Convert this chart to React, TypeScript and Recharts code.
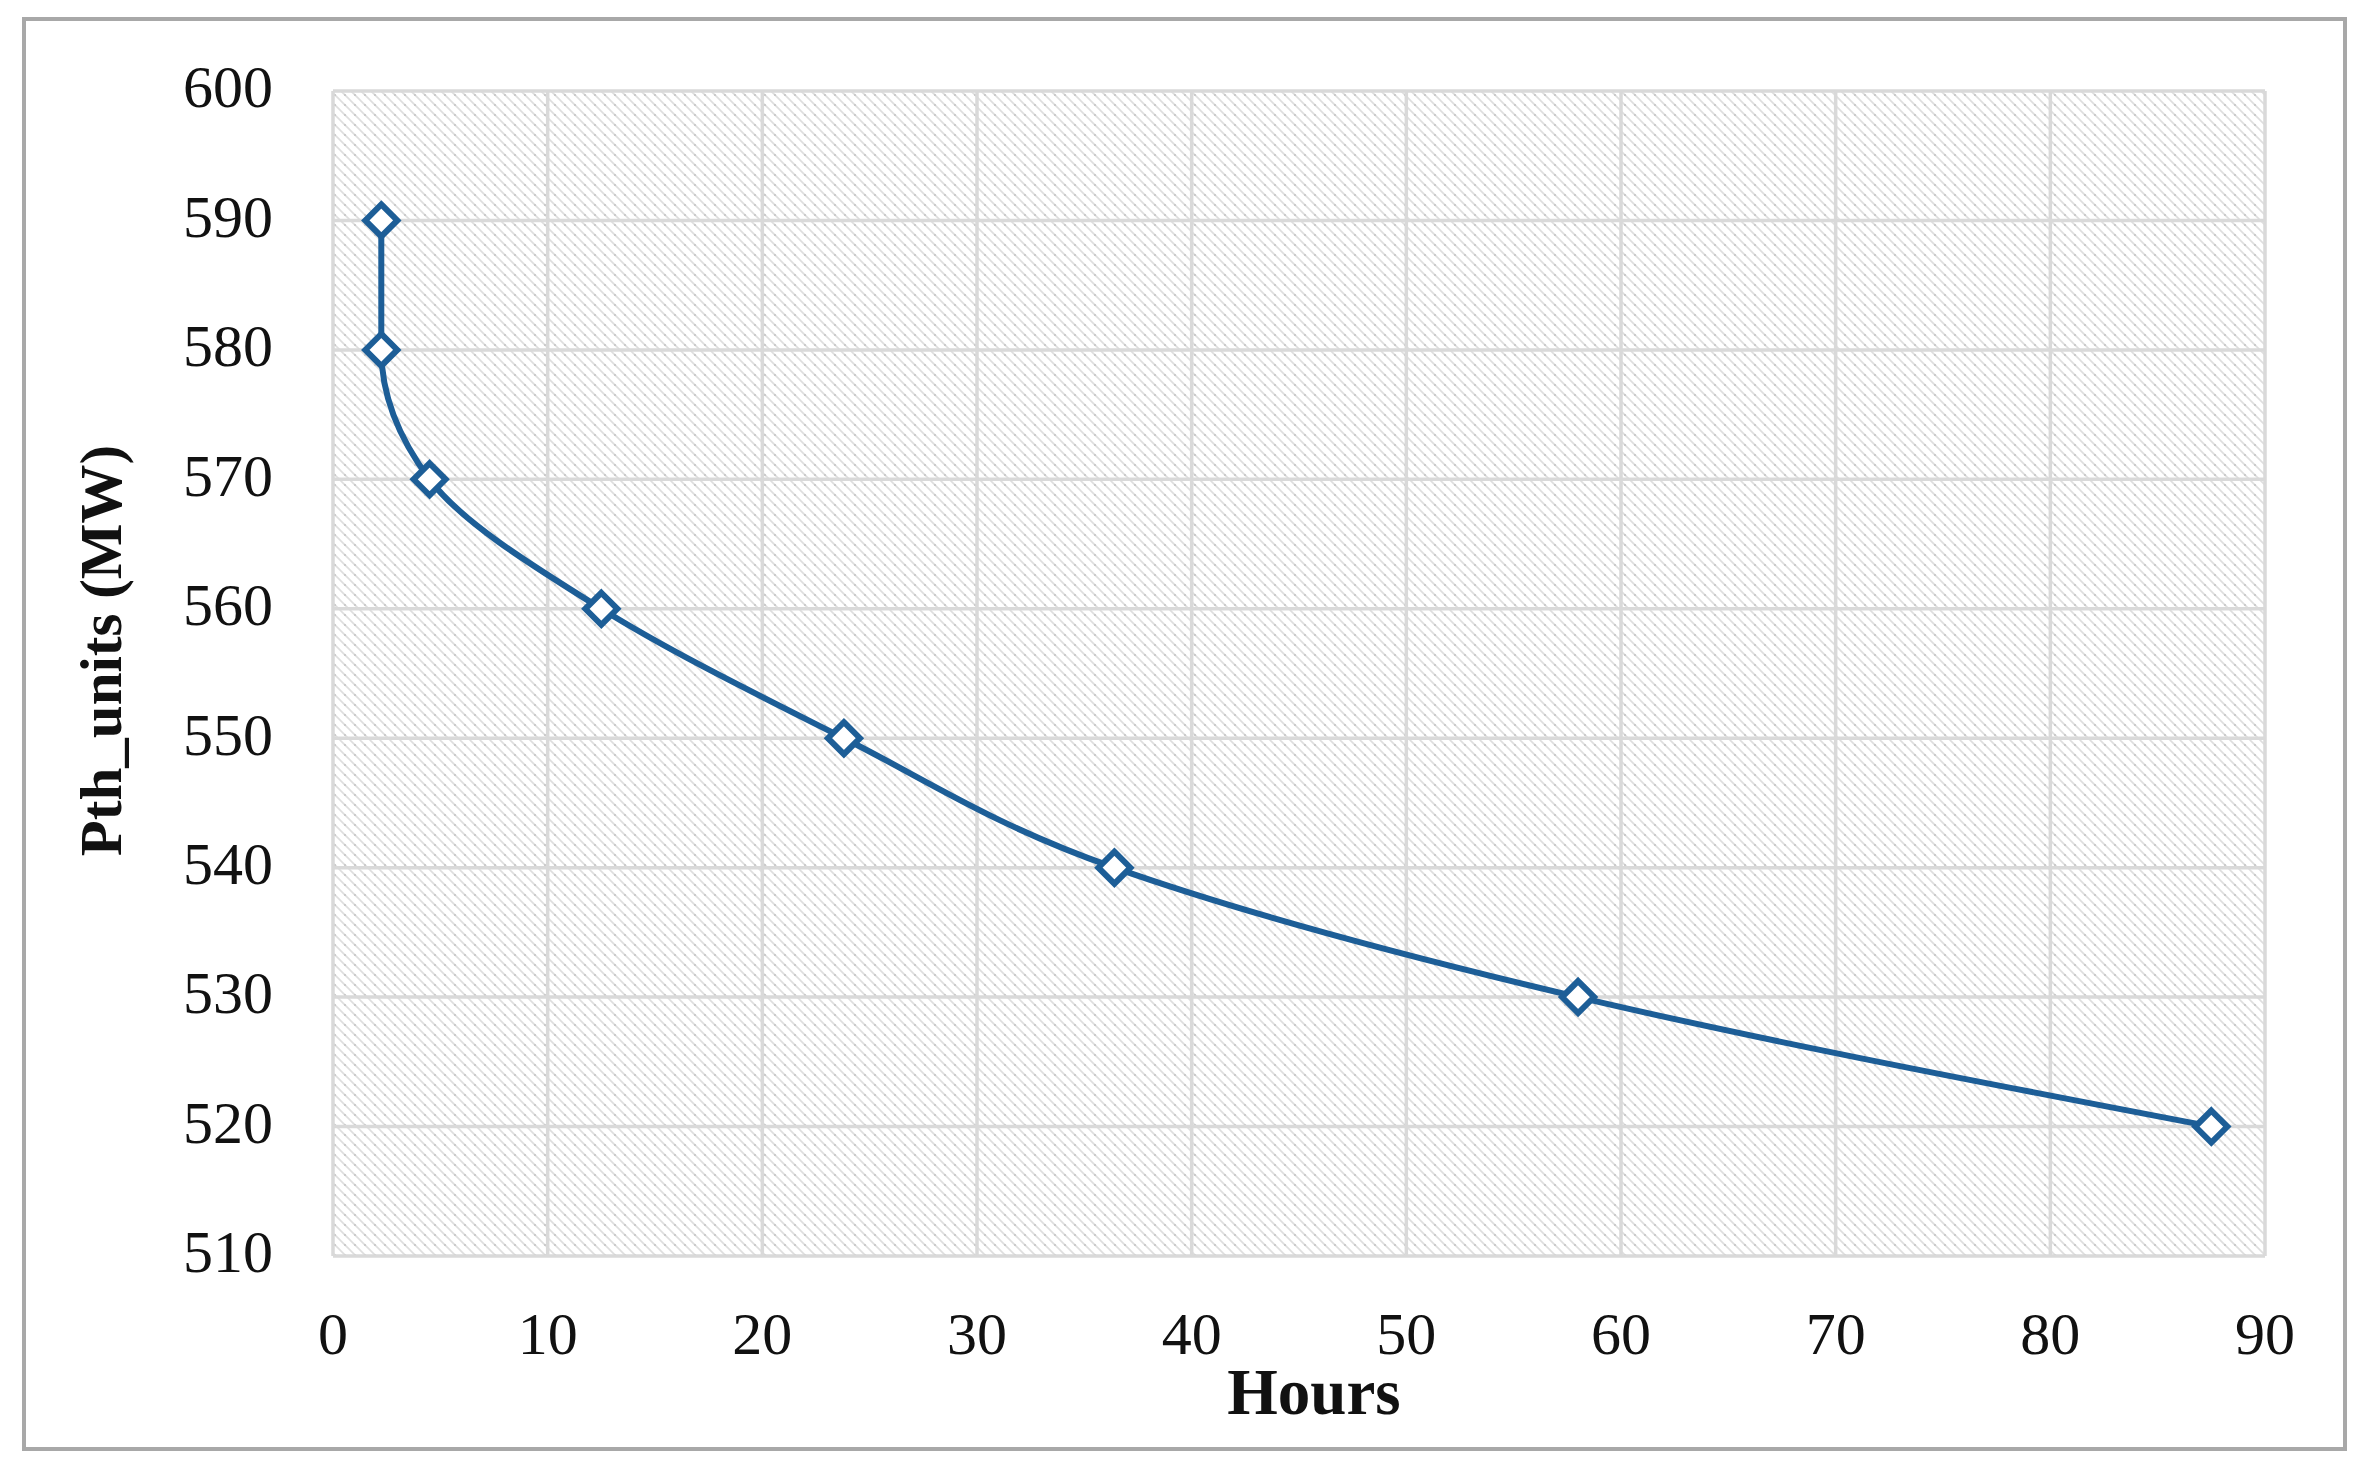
import React from 'react';
import { LineChart, Line, XAxis, YAxis, CartesianGrid } from 'recharts';

const hours = [2.25, 2.25, 4.5, 12.5, 23.8, 36.4, 58.0, 87.5];
const pthUnits = [590, 580, 570, 560, 550, 540, 530, 520];
const xTicks = [0, 10, 20, 30, 40, 50, 60, 70, 80, 90];
const yTicks = [510, 520, 530, 540, 550, 560, 570, 580, 590, 600];

const data = hours.map((h, i) => ({ hours: h, pth: pthUnits[i] }));

const FONT = '"Liberation Serif", "DejaVu Serif", serif';
const BLUE = '#1d5e97';

const Diamond = (props: any) => {
  const { cx, cy } = props;
  if (cx == null || cy == null) return null;
  const r = 16;
  return (
    <path
      d={`M${cx},${cy - r} L${cx + r},${cy} L${cx},${cy + r} L${cx - r},${cy} Z`}
      fill="#ffffff"
      stroke={BLUE}
      strokeWidth={6}
    />
  );
};

const YTitle = (props: any) => {
  const vb = props.viewBox || {};
  const x = vb.x - 32;
  const y = vb.y + vb.height / 2 - 23;
  return (
    <text
      x={x}
      y={y}
      transform={`rotate(-90, ${x}, ${y})`}
      textAnchor="middle"
      dominantBaseline="central"
      fontFamily={FONT}
      fontWeight="bold"
      fontSize={59}
      fill="#111"
    >
      Pth_units (MW)
    </text>
  );
};

export default function App() {
  return (
    <div style={{ position: 'absolute', left: 0, top: 0, width: 2372, height: 1469, background: '#fff' }}>
      <div
        style={{
          position: 'absolute',
          left: 22,
          top: 17,
          width: 2317,
          height: 1426,
          border: '4px solid #a8a8a8',
        }}
      />
      <div style={{ position: 'absolute', left: 0, top: 0 }}>
        <LineChart
          width={2372}
          height={1469}
          data={data}
          margin={{ top: 91, right: 107, left: 133, bottom: 40 }}
        >
          <defs>
            <pattern id="hatch" width="10" height="10" patternUnits="userSpaceOnUse">
              <rect width="10" height="10" fill="#ffffff" />
              <path d="M0,0 L10,10 M-3,7 L3,13 M7,-3 L13,3" stroke="#dedede" strokeWidth={1.6} />
              <circle cx="5" cy="5" r="1" fill="#c4c4c4" />
            </pattern>
          </defs>
          <CartesianGrid fill="url(#hatch)" stroke="#d9d9d9" strokeWidth={3.5} />
          <XAxis
            type="number"
            dataKey="hours"
            domain={[0, 90]}
            ticks={xTicks}
            interval={0}
            axisLine={false}
            tickLine={false}
            height={173}
            tickMargin={49}
            tick={{ fontFamily: FONT, fontSize: 60, fill: '#111' }}
            label={{
              value: 'Hours',
              position: 'insideBottom',
              offset: 15,
              dx: 15,
              style: { fontFamily: FONT, fontSize: 65, fontWeight: 'bold', fill: '#111' },
            }}
          />
          <YAxis
            type="number"
            domain={[510, 600]}
            ticks={yTicks}
            interval={0}
            axisLine={false}
            tickLine={false}
            width={200}
            tickMargin={54}
            tick={{ fontFamily: FONT, fontSize: 60, fill: '#111', dy: -5 }}
            label={<YTitle />}
          />
          <Line
            type="monotoneY"
            dataKey="pth"
            stroke={BLUE}
            strokeWidth={6}
            dot={<Diamond />}
            activeDot={false}
            isAnimationActive={false}
          />
        </LineChart>
      </div>
    </div>
  );
}
